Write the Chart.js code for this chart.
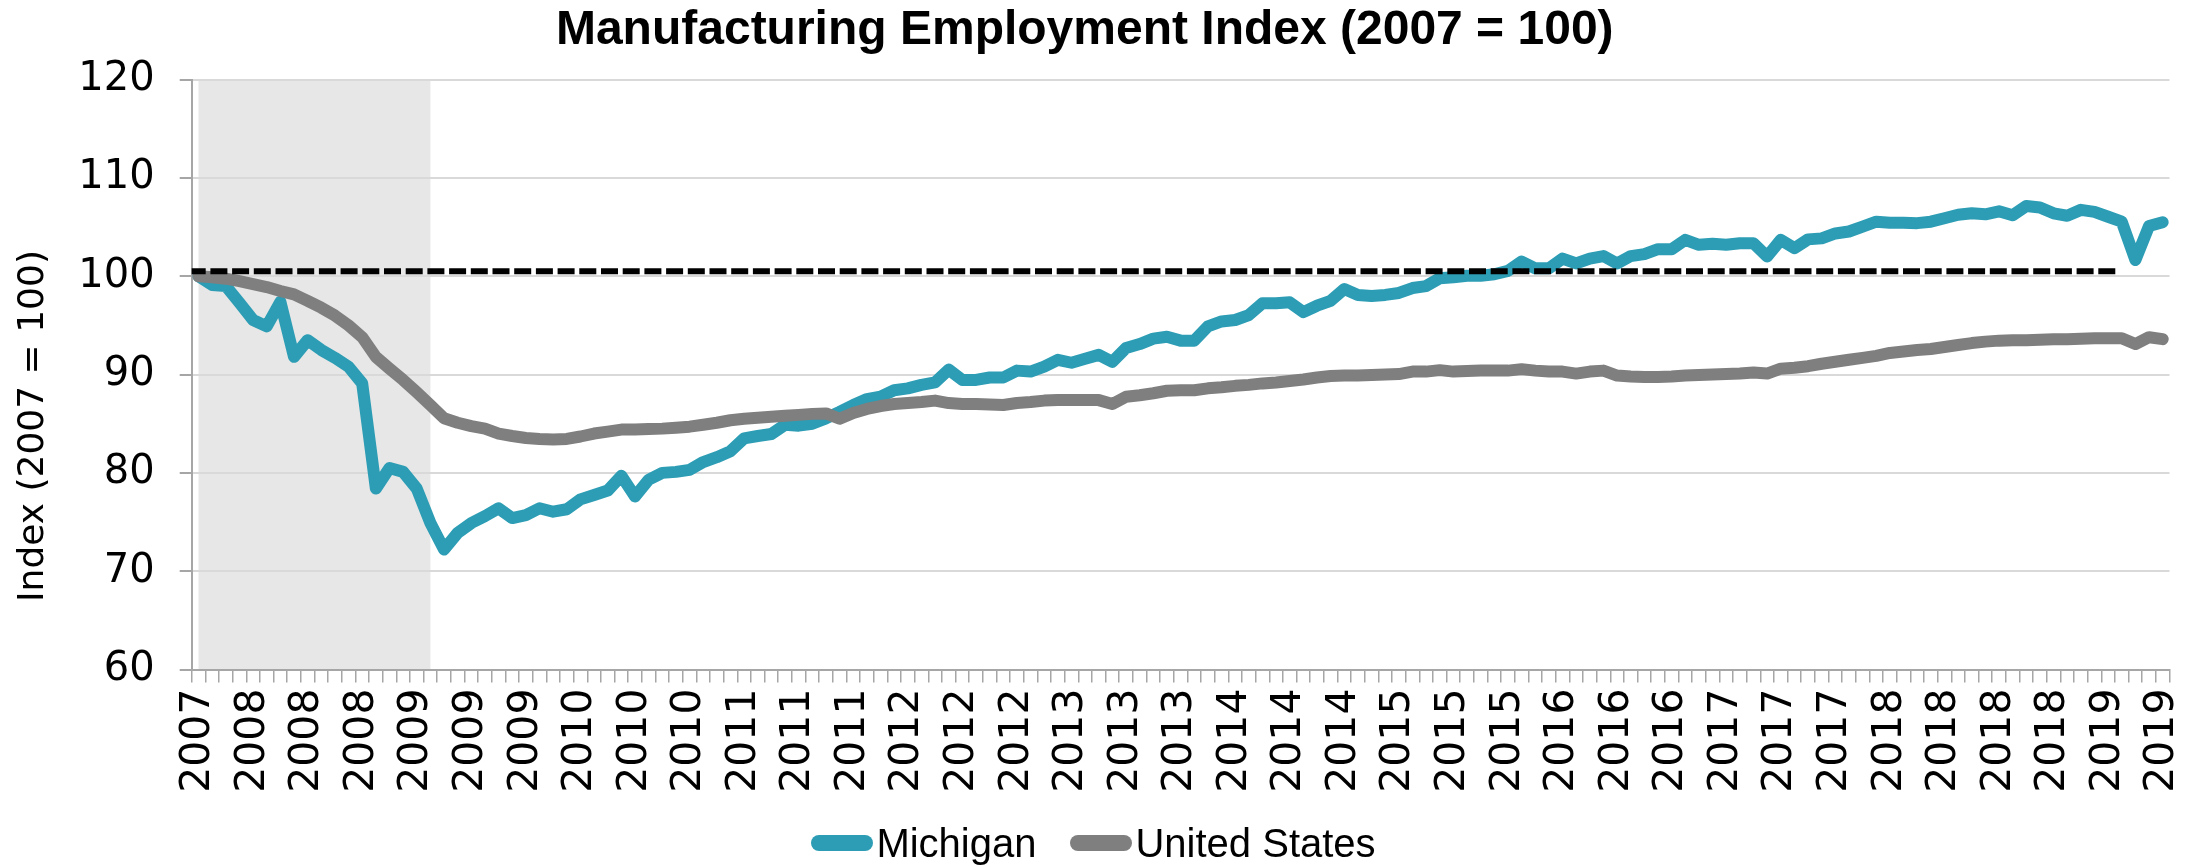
<!DOCTYPE html>
<html>
<head>
<meta charset="utf-8">
<script src="https://cdn.jsdelivr.net/npm/chart.js@4/dist/chart.umd.min.js"></script>
<style>
  html, body { margin: 0; padding: 0; background: #ffffff; }
  #wrap { position: relative; width: 2203px; height: 867px; overflow: hidden; }
  #c { position: absolute; left: 0; top: 0; }
  #legend { position: absolute; left: -8px; top: 819px; width: 2203px; height: 48px;
            display: flex; justify-content: center; align-items: center;
            font-family: "Liberation Sans", Arial, sans-serif; font-size: 40px; color: #000; }
  #legend .item { display: flex; align-items: center; margin: 0 17px; white-space: nowrap; }
  #legend .sw { display: inline-block; width: 62px; height: 16px; border-radius: 8px; margin-right: 3px; }
</style>
</head>
<body>
<div id="wrap">
  <canvas id="c" width="2203" height="867"></canvas>
  <div id="legend"></div>
</div>
<script>
// ---- Data ----------------------------------------------------------------
const tickLabels = ['2007','2008','2008','2008','2009','2009','2009','2010','2010','2010',
  '2011','2011','2011','2012','2012','2012','2013','2013','2013','2014','2014','2014',
  '2015','2015','2015','2016','2016','2016','2017','2017','2017','2018','2018','2018','2018',
  '2019','2019'];

const michigan = [
  100.0, 99.1, 99.0, 97.3, 95.55, 94.9, 97.4, 91.8, 93.5, 92.5,
  91.7, 90.8, 89.1, 78.4, 80.5, 80.1, 78.4, 74.9, 72.2, 73.9,
  74.9, 75.6, 76.4, 75.4, 75.7, 76.4, 76.05, 76.3, 77.3, 77.75,
  78.2, 79.7, 77.6, 79.3, 80.0, 80.1, 80.3, 81.1, 81.6, 82.2,
  83.5, 83.75, 83.95, 84.9, 84.8, 85.0, 85.55, 86.2, 86.9, 87.5,
  87.75, 88.4, 88.6, 88.95, 89.2, 90.5, 89.45, 89.45, 89.7, 89.7,
  90.4, 90.3, 90.8, 91.5, 91.2, 91.6, 92.0, 91.3, 92.7, 93.1,
  93.65, 93.85, 93.45, 93.45, 94.9, 95.4, 95.55, 96.05, 97.25, 97.25,
  97.35, 96.35, 97.0, 97.5, 98.7, 98.1, 98.0, 98.1, 98.3, 98.8,
  99.0, 99.8, 99.9, 100.05, 100.05, 100.2, 100.55, 101.5, 100.8, 100.8,
  101.8, 101.3, 101.8, 102.05, 101.3, 102.05, 102.25, 102.75, 102.75, 103.7,
  103.2, 103.3, 103.2, 103.35, 103.35, 102.0, 103.7, 102.85, 103.75, 103.85,
  104.35, 104.55, 105.05, 105.55, 105.45, 105.45, 105.4, 105.55, 105.9, 106.25,
  106.4, 106.3, 106.6, 106.2, 107.15, 107.0, 106.4, 106.15, 106.75, 106.55,
  106.05, 105.55, 101.65, 105.1, 105.5
];

const unitedStates = [
  100.0, 99.9, 99.75, 99.5, 99.2, 98.9, 98.5, 98.15, 97.5, 96.8,
  96.0, 95.0, 93.8, 91.8, 90.6, 89.45, 88.2, 86.9, 85.55, 85.1,
  84.75, 84.5, 84.0, 83.75, 83.55, 83.45, 83.4, 83.45, 83.7, 84.0,
  84.2, 84.4, 84.4, 84.45, 84.5, 84.6, 84.7, 84.9, 85.1, 85.35,
  85.5, 85.6, 85.7, 85.8, 85.9, 86.0, 86.05, 85.5, 86.1, 86.5,
  86.8, 87.0, 87.1, 87.2, 87.35, 87.1, 87.0, 87.0, 86.95, 86.9,
  87.1, 87.2, 87.35, 87.4, 87.4, 87.4, 87.4, 87.0, 87.75, 87.9,
  88.1, 88.35, 88.4, 88.4, 88.6, 88.7, 88.85, 88.95, 89.1, 89.2,
  89.35, 89.5, 89.7, 89.85, 89.9, 89.9, 89.95, 90.0, 90.05, 90.3,
  90.3, 90.45, 90.3, 90.35, 90.4, 90.4, 90.4, 90.55, 90.4, 90.3,
  90.3, 90.1, 90.3, 90.4, 89.9, 89.8, 89.75, 89.75, 89.8, 89.9,
  89.95, 90.0, 90.05, 90.1, 90.2, 90.1, 90.6, 90.7, 90.85, 91.1,
  91.3, 91.5, 91.7, 91.9, 92.2, 92.35, 92.5, 92.6, 92.8, 93.0,
  93.2, 93.35, 93.45, 93.5, 93.5, 93.55, 93.6, 93.6, 93.65, 93.7,
  93.7, 93.7, 93.1, 93.8, 93.6
];

// reference (dashed) level and its extent, in category-index units
const refLevel = 100.5;
const refExtent = [-0.5, 140.5];

// recession shading, first and last shaded months
const recessionShade = ['Dec 2007', 'May 2009'];

// monthly categories (one per observation)
const monthNames = ['Jan','Feb','Mar','Apr','May','Jun','Jul','Aug','Sep','Oct','Nov','Dec'];
const categories = michigan.map((_, i) => {
  const m = 11 + i;
  return monthNames[m % 12] + ' ' + (2007 + Math.floor(m / 12));
});

// ---- Chart -----------------------------------------------------------------
const TEAL = '#2C9DB4';
const GRAY = '#7F7F7F';
const AXIS = '#A6A6A6';

const recessionPlugin = {
  id: 'recessionShade',
  beforeDraw(chart) {
    const { ctx, chartArea, scales } = chart;
    const x = scales.x;
    const x0 = x.getPixelForValue(categories.indexOf(recessionShade[0]));
    const x1 = x.getPixelForValue(categories.indexOf(recessionShade[1]));
    ctx.save();
    ctx.fillStyle = '#E7E7E7';
    ctx.fillRect(x0, chartArea.top, x1 - x0, chartArea.bottom - chartArea.top);
    ctx.restore();
  }
};

const chart = new Chart(document.getElementById('c'), {
  type: 'line',
  data: {
    labels: categories,
    datasets: [
      {
        label: 'Reference 2007 level',
        showInLegend: false,
        xAxisID: 'xRef',
        data: [{ x: refExtent[0], y: refLevel }, { x: refExtent[1], y: refLevel }],
        borderColor: '#000000',
        borderWidth: 6,
        borderDash: [11, 10.7],
        borderCapStyle: 'square',
        pointRadius: 0,
        order: 0
      },
      {
        label: 'United States',
        showInLegend: true,
        data: unitedStates,
        borderColor: GRAY,
        backgroundColor: GRAY,
        borderWidth: 12,
        borderCapStyle: 'round',
        borderJoinStyle: 'round',
        pointRadius: 0,
        tension: 0,
        order: 1
      },
      {
        label: 'Michigan',
        showInLegend: true,
        data: michigan,
        borderColor: TEAL,
        backgroundColor: TEAL,
        borderWidth: 12,
        borderCapStyle: 'round',
        borderJoinStyle: 'round',
        pointRadius: 0,
        tension: 0,
        order: 2
      }
    ]
  },
  options: {
    responsive: false,
    animation: false,
    devicePixelRatio: 1,
    layout: { padding: { top: 0, left: 0, right: 33.5, bottom: 0 } },
    plugins: {
      legend: { display: false },
      tooltip: { enabled: false },
      title: {
        display: true,
        text: 'Manufacturing Employment Index (2007 = 100)',
        color: '#000000',
        font: { family: '"Liberation Sans", Arial, sans-serif', size: 48, weight: 'bold' },
        padding: { top: 2, bottom: 20 }
      }
    },
    scales: {
      x: {
        type: 'category',
        offset: true,
        grid: {
          offset: true,
          drawOnChartArea: false,
          drawTicks: true,
          tickLength: 13,
          color: AXIS,
          tickColor: AXIS,
          tickWidth: 1.5,
          lineWidth: 1.5
        },
        border: { display: true, color: AXIS, width: 2 },
        ticks: {
          autoSkip: false,
          minRotation: 90,
          maxRotation: 90,
          padding: 6,
          color: '#000000',
          font: { family: '"DejaVu Sans", sans-serif', size: 41 },
          callback: (value, index) => (index % 4 === 0 ? tickLabels[index / 4] : '')
        },
        afterFit: (s) => { s.height = 197.5; s.paddingLeft = 0; s.paddingRight = 0; }
      },
      xRef: {
        type: 'linear',
        display: false,
        min: refExtent[0],
        max: categories.length - 0.5,
        offset: false
      },
      y: {
        min: 60,
        max: 120,
        ticks: {
          stepSize: 10,
          padding: 25,
          color: '#000000',
          font: { family: '"DejaVu Sans", sans-serif', size: 40 }
        },
        grid: {
          color: '#D9D9D9',
          lineWidth: 2,
          tickColor: AXIS,
          tickLength: 12,
          tickWidth: 2
        },
        border: { display: true, color: AXIS, width: 2 },
        title: {
          display: true,
          text: 'Index (2007 = 100)' + ' '.repeat(9),
          color: '#000000',
          font: { family: '"DejaVu Sans", sans-serif', size: 36 },
          padding: { top: 12, bottom: 0 }
        },
        afterFit: (s) => { s.width = 191.7; }
      }
    }
  },
  plugins: [recessionPlugin]
});

// ---- HTML legend built from the chart's datasets ---------------------------
const legendEl = document.getElementById('legend');
chart.data.datasets
  .filter(d => d.showInLegend)
  .sort((a, b) => b.order - a.order)
  .forEach(d => {
    const item = document.createElement('span');
    item.className = 'item';
    const sw = document.createElement('span');
    sw.className = 'sw';
    sw.style.background = d.borderColor;
    const txt = document.createElement('span');
    txt.textContent = d.label;
    item.appendChild(sw);
    item.appendChild(txt);
    legendEl.appendChild(item);
  });
</script>
</body>
</html>
